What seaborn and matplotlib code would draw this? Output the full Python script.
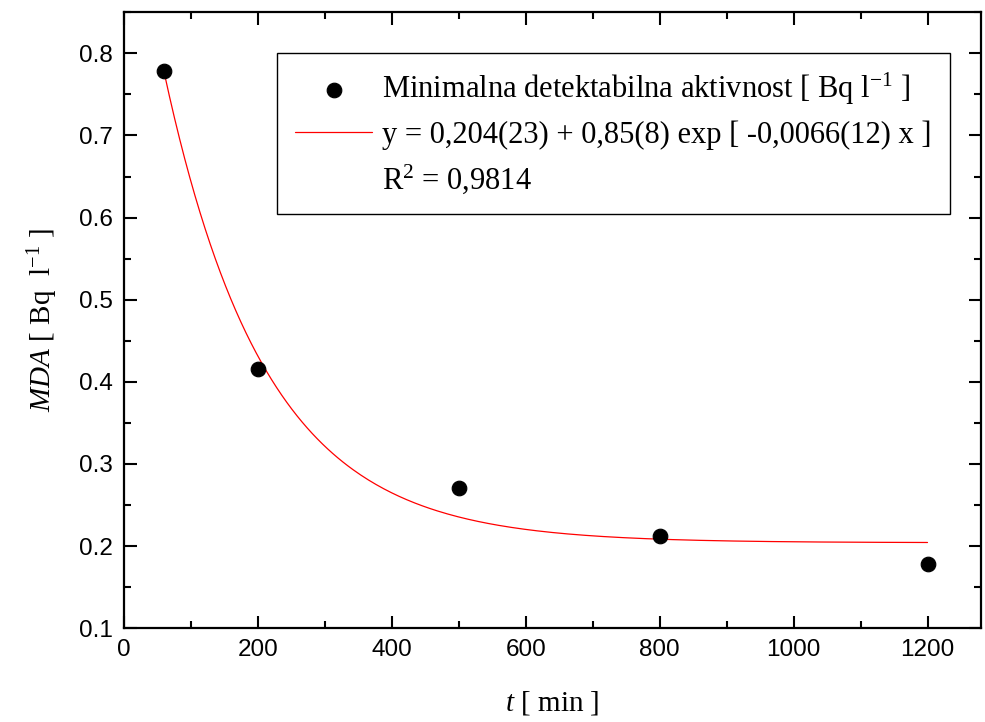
import numpy as np
import pandas as pd
import matplotlib
matplotlib.use("Agg")
import matplotlib.pyplot as plt
import seaborn as sns
from matplotlib.ticker import MultipleLocator

# measured points
t_min = [60, 200, 500, 800, 1200]
mda = [0.778, 0.415, 0.271, 0.212, 0.178]

# fit parameters, as printed in the legend
y0 = 0.204
amp = 0.85
rate = 0.0066

df = pd.DataFrame({"t": t_min, "mda": mda})
tt = np.linspace(min(t_min), max(t_min), 300)
fit = pd.DataFrame({"t": tt, "mda": y0 + amp * np.exp(-rate * tt)})

sns.set_style("ticks")
plt.rcParams["font.family"] = ["Liberation Sans", "DejaVu Sans"]
plt.rcParams["mathtext.fontset"] = "custom"
plt.rcParams["mathtext.rm"] = "Liberation Serif"
plt.rcParams["mathtext.it"] = "Liberation Serif:italic"
plt.rcParams["text.color"] = "black"
plt.rcParams["axes.labelcolor"] = "black"
plt.rcParams["xtick.color"] = "black"
plt.rcParams["ytick.color"] = "black"
plt.rcParams["axes.edgecolor"] = "black"

fig = plt.figure(figsize=(9.85, 7.22), dpi=100)
ax = fig.add_axes([0.126, 0.130, 0.870, 0.853])

sns.lineplot(data=fit, x="t", y="mda", color="red", lw=0.9, ax=ax,
             label="y = 0,204(23) + 0,85(8) exp [ -0,0066(12) x ]")
sns.scatterplot(data=df, x="t", y="mda", color="black", s=110, ax=ax,
                edgecolor="black", zorder=3,
                label="Minimalna detektabilna aktivnost [ Bq l$^{-1}$ ]")

ax.set_xlim(0, 1280)
ax.set_ylim(0.1, 0.85)
ax.xaxis.set_major_locator(MultipleLocator(200))
ax.xaxis.set_minor_locator(MultipleLocator(100))
ax.yaxis.set_minor_locator(MultipleLocator(0.05))
ax.set_yticks([0.1, 0.2, 0.3, 0.4, 0.5, 0.6, 0.7, 0.8])
ax.tick_params(which="both", direction="in", top=True, right=True,
               width=1.5, labelsize=17.5, pad=8)
ax.tick_params(which="major", length=9)
ax.tick_params(which="minor", length=5)
for s in ax.spines.values():
    s.set_linewidth(1.6)

ax.set_xlabel("$t$ [ min ]", fontsize=21, family="Liberation Serif", labelpad=20)
ax.set_ylabel("$MDA$ [ Bq  l$^{-1}$ ]", fontsize=21, family="Liberation Serif", labelpad=14)

# legend: scatter first, then fit line, then R^2 row
h, l = ax.get_legend_handles_labels()
blank = plt.Line2D([], [], linestyle="none")
leg = ax.legend([h[1], h[0], blank], [l[1], l[0], "R$^2$ = 0,9814"],
                loc="upper left", bbox_to_anchor=(0.1785, 0.934),
                borderaxespad=0, frameon=True, fancybox=False, edgecolor="black",
                prop={"family": "Liberation Serif", "size": 22},
                handlelength=2.5, handletextpad=0.35, labelspacing=0.42,
                borderpad=0.6, markerscale=1.0)
leg.get_frame().set_linewidth(1.0)
leg.get_frame().set_alpha(1)

fig.savefig("out.png", dpi=100)
